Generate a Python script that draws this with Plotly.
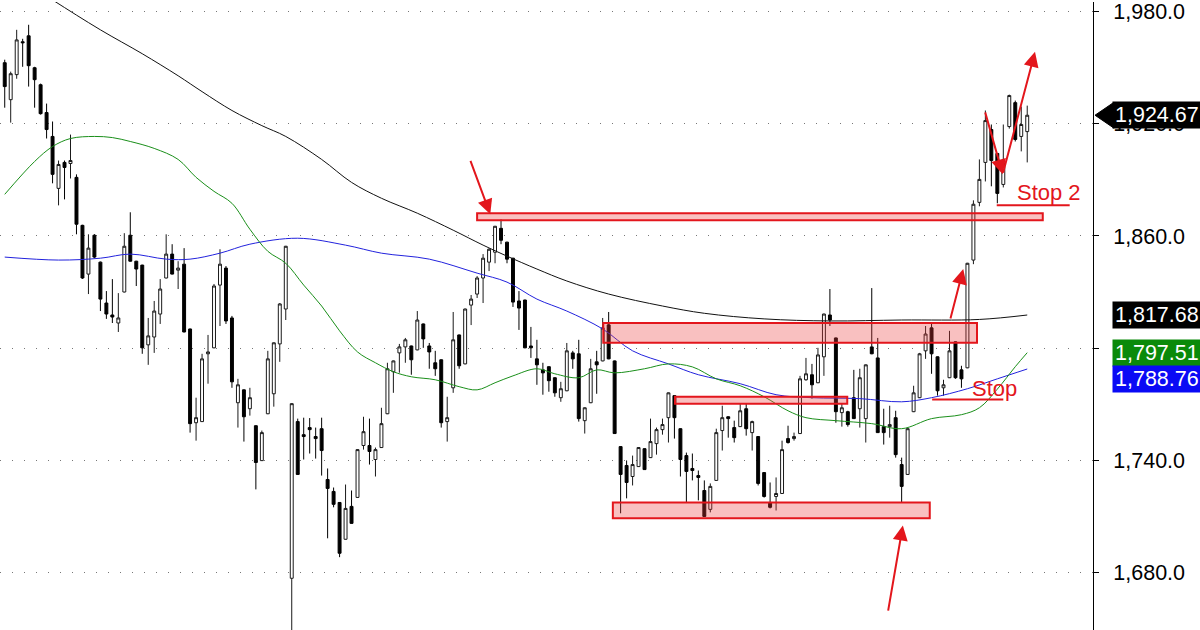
import plotly.graph_objects as go

# ---------------- data ----------------
opens = [1952.8, 1933.0, 1946.4, 1964.0, 1967.2, 1950.1, 1941.0, 1926.1, 1913.3, 1885.5,
         1899.4, 1898.8, 1891.4, 1865.7, 1839.6, 1860.4, 1846.0, 1824.1, 1817.7, 1813.4,
         1830.0, 1860.4, 1846.5, 1844.4, 1801.7, 1805.9, 1818.2, 1837.5, 1850.3, 1841.7,
         1844.9, 1810.2, 1760.0, 1760.6, 1796.9, 1800.1, 1833.7, 1842.8, 1816.1, 1770.7,
         1777.6, 1767.5, 1758.4, 1739.7, 1764.8, 1775.5, 1802.2, 1820.9, 1676.7, 1760.6,
         1753.6, 1757.4, 1752.6, 1756.8, 1729.6, 1723.2, 1717.3, 1697.6, 1715.2, 1720.0,
         1747.8, 1747.8, 1740.3, 1746.7, 1764.8, 1787.3, 1797.4, 1800.6, 1801.1, 1799.0,
         1812.9, 1801.1, 1792.1, 1793.7, 1760.6, 1778.7, 1807.0, 1791.5, 1823.0, 1828.9,
         1837.5, 1846.0, 1851.3, 1864.1, 1856.7, 1848.1, 1825.2, 1825.7, 1801.1, 1794.2,
         1788.3, 1790.0, 1784.1, 1773.4, 1777.1, 1797.4, 1796.9, 1761.1, 1770.7, 1792.6,
         1793.1, 1812.4, 1793.1, 1747.2, 1737.1, 1731.2, 1736.5, 1746.1, 1741.3, 1748.8,
         1756.3, 1762.7, 1774.5, 1756.8, 1742.4, 1735.5, 1731.7, 1723.7, 1713.6, 1729.1,
         1755.8, 1763.2, 1757.4, 1757.9, 1767.5, 1754.7, 1752.6, 1733.3, 1717.3, 1720.5,
         1722.1, 1751.5, 1751.5, 1754.2, 1783.0, 1785.7, 1781.4, 1795.3, 1817.7, 1805.4,
         1765.4, 1765.9, 1773.4, 1767.5, 1762.2, 1800.6, 1794.7, 1757.9, 1757.9, 1762.7,
         1737.6, 1732.3, 1765.9, 1773.4, 1798.5, 1810.8, 1795.3, 1778.7, 1784.1, 1803.3,
         1788.3, 1789.4, 1847.1, 1878.0, 1899.4, 1917.0, 1904.2, 1887.6, 1918.6, 1931.4,
         1913.3, 1915.9]
highs = [1954.4, 1948.0, 1970.4, 1965.6, 1973.1, 1950.6, 1941.6, 1930.9, 1921.3, 1900.4,
         1900.4, 1914.3, 1893.0, 1866.0, 1860.9, 1861.0, 1846.3, 1830.5, 1836.9, 1829.4,
         1861.5, 1872.7, 1846.7, 1844.6, 1816.1, 1825.2, 1836.9, 1860.9, 1855.6, 1846.5,
         1853.5, 1810.4, 1773.4, 1796.9, 1807.0, 1834.3, 1852.9, 1843.9, 1817.2, 1783.5,
         1777.8, 1778.7, 1758.6, 1755.8, 1798.5, 1803.0, 1824.1, 1854.7, 1770.4, 1762.2,
         1762.7, 1762.5, 1757.4, 1762.7, 1735.5, 1725.3, 1717.5, 1726.9, 1723.7, 1745.8,
         1763.2, 1762.2, 1746.7, 1768.0, 1792.1, 1793.3, 1802.2, 1805.4, 1801.3, 1819.8,
         1813.1, 1802.7, 1798.5, 1793.9, 1773.9, 1819.3, 1807.2, 1821.1, 1828.4, 1838.5,
         1850.3, 1853.4, 1865.4, 1868.9, 1856.9, 1848.3, 1830.5, 1825.9, 1811.3, 1804.4,
         1792.1, 1790.2, 1784.3, 1781.9, 1802.7, 1798.5, 1804.4, 1768.2, 1794.2, 1798.5,
         1816.1, 1819.3, 1793.3, 1747.4, 1739.8, 1742.4, 1746.9, 1746.3, 1762.2, 1757.4,
         1762.2, 1776.2, 1774.7, 1757.0, 1744.0, 1743.5, 1734.4, 1729.1, 1727.5, 1756.8,
         1769.1, 1763.4, 1761.1, 1770.2, 1770.2, 1761.1, 1752.8, 1733.5, 1728.0, 1730.7,
         1750.4, 1758.4, 1754.7, 1785.1, 1794.7, 1791.5, 1800.1, 1818.4, 1831.6, 1805.6,
         1770.2, 1766.4, 1788.3, 1788.9, 1791.2, 1832.1, 1805.4, 1767.5, 1769.1, 1766.4,
         1741.3, 1757.0, 1779.8, 1797.4, 1811.8, 1812.9, 1795.5, 1783.0, 1809.2, 1803.5,
         1790.5, 1845.6, 1879.1, 1901.0, 1927.2, 1919.7, 1904.4, 1919.7, 1935.7, 1932.5,
         1929.3, 1929.8]
lows = [1928.7, 1920.7, 1944.2, 1950.6, 1940.0, 1928.7, 1925.0, 1912.2, 1888.2, 1876.4,
        1879.6, 1890.8, 1860.9, 1837.0, 1828.9, 1848.1, 1819.8, 1815.6, 1813.4, 1808.6,
        1829.8, 1846.3, 1833.2, 1796.9, 1791.0, 1797.4, 1812.9, 1837.3, 1839.4, 1831.6,
        1808.4, 1754.7, 1750.4, 1760.4, 1780.9, 1799.9, 1811.8, 1812.9, 1778.7, 1757.4,
        1749.9, 1763.8, 1724.3, 1739.5, 1764.6, 1768.6, 1792.6, 1815.0, 1643.6, 1732.1,
        1740.3, 1743.5, 1740.8, 1731.7, 1698.1, 1714.7, 1688.0, 1697.4, 1705.9, 1719.8,
        1745.6, 1737.6, 1731.2, 1746.5, 1764.6, 1776.0, 1786.8, 1792.1, 1785.7, 1798.8,
        1800.1, 1788.9, 1785.1, 1757.4, 1749.9, 1776.0, 1788.9, 1791.3, 1812.3, 1826.8,
        1824.1, 1841.2, 1845.4, 1855.6, 1845.4, 1822.0, 1809.7, 1799.9, 1794.7, 1780.3,
        1775.0, 1776.6, 1773.9, 1771.2, 1776.9, 1788.9, 1760.6, 1754.2, 1770.5, 1775.5,
        1792.9, 1794.0, 1754.0, 1711.5, 1719.5, 1726.4, 1736.3, 1734.7, 1741.1, 1742.9,
        1753.6, 1749.4, 1751.5, 1731.2, 1717.3, 1729.1, 1718.4, 1709.6, 1712.0, 1728.9,
        1745.1, 1752.0, 1749.4, 1757.7, 1753.1, 1745.1, 1726.4, 1719.9, 1714.1, 1713.0,
        1721.9, 1748.8, 1750.4, 1754.0, 1782.5, 1772.9, 1781.2, 1785.1, 1811.8, 1760.0,
        1757.9, 1757.9, 1762.0, 1757.4, 1749.4, 1796.7, 1754.5, 1748.3, 1752.0, 1741.3,
        1717.3, 1732.1, 1765.7, 1773.2, 1794.2, 1786.2, 1774.5, 1774.5, 1783.9, 1783.5,
        1778.7, 1789.2, 1844.9, 1875.9, 1889.2, 1886.6, 1877.5, 1886.0, 1917.5, 1910.6,
        1905.3, 1899.4]
closes = [1940.0, 1946.9, 1965.0, 1963.5, 1951.2, 1943.7, 1925.5, 1917.0, 1893.0, 1898.3,
          1896.7, 1900.4, 1866.3, 1837.5, 1853.5, 1848.7, 1826.2, 1818.2, 1816.6, 1816.1,
          1854.5, 1846.5, 1842.3, 1800.1, 1806.5, 1819.8, 1831.6, 1850.3, 1839.6, 1842.8,
          1808.6, 1759.5, 1762.7, 1794.2, 1797.9, 1833.2, 1844.9, 1814.5, 1781.9, 1780.3,
          1763.2, 1773.4, 1738.7, 1754.7, 1794.2, 1802.8, 1823.6, 1854.5, 1770.2, 1732.3,
          1752.6, 1756.3, 1751.5, 1745.1, 1724.8, 1716.3, 1690.1, 1714.1, 1706.1, 1745.6,
          1755.2, 1744.6, 1745.6, 1759.5, 1788.9, 1793.1, 1800.6, 1804.4, 1793.7, 1815.0,
          1804.9, 1797.9, 1788.9, 1760.0, 1762.7, 1804.4, 1790.5, 1820.9, 1826.2, 1837.5,
          1848.1, 1852.9, 1865.2, 1857.7, 1847.6, 1824.6, 1821.4, 1800.1, 1800.1, 1791.0,
          1786.7, 1782.5, 1776.0, 1778.2, 1798.5, 1794.2, 1762.2, 1768.0, 1788.9, 1791.0,
          1810.8, 1794.2, 1754.2, 1732.3, 1728.0, 1737.6, 1746.7, 1734.9, 1749.9, 1756.3,
          1759.0, 1776.0, 1762.7, 1740.3, 1733.9, 1734.4, 1730.7, 1709.8, 1725.9, 1754.7,
          1762.7, 1762.2, 1752.0, 1766.4, 1756.8, 1760.6, 1727.5, 1720.5, 1714.7, 1722.1,
          1745.6, 1749.4, 1752.6, 1783.5, 1786.2, 1780.3, 1796.3, 1818.2, 1815.0, 1765.9,
          1768.0, 1759.0, 1762.2, 1784.1, 1791.0, 1796.9, 1754.7, 1754.7, 1759.0, 1742.9,
          1725.9, 1756.8, 1776.0, 1796.9, 1807.5, 1796.9, 1777.1, 1780.3, 1798.5, 1784.1,
          1783.5, 1845.4, 1877.0, 1890.3, 1921.8, 1900.4, 1882.8, 1898.8, 1935.2, 1911.7,
          1919.7, 1924.67]
bars = list(range(len(closes)))

# moving averages, read at selected bars
ma_black_x = [0, 8, 16, 23, 29, 33, 38, 43, 47, 53, 58, 63, 69, 75, 80, 84, 89, 94,
              101, 110, 117, 127, 138, 150, 163, 171]
ma_black = [2003.0, 1986.4, 1970.4, 1957.6, 1945.8, 1937.3, 1927.2, 1919.1, 1913.3,
            1901.0, 1888.7, 1880.2, 1872.2, 1863.1, 1855.1, 1849.2, 1842.3, 1835.9,
            1828.9, 1822.5, 1818.6, 1815.6, 1814.5, 1815.0, 1815.3, 1817.68]
ma_blue_x = [0, 9, 16, 21, 27, 31, 36, 41, 49, 57, 63, 71, 79, 84, 89, 94, 100, 105,
             111, 116, 123, 129, 135, 143, 150, 155, 161, 166, 171]
ma_blue = [1848.7, 1847.1, 1848.1, 1850.3, 1847.6, 1847.6, 1850.8, 1855.6, 1858.8,
           1855.1, 1850.8, 1847.6, 1840.1, 1835.3, 1826.2, 1819.8, 1810.2, 1798.5,
           1791.5, 1785.7, 1780.9, 1775.0, 1773.4, 1772.9, 1771.2, 1773.4, 1778.2,
           1783.5, 1788.76]
ma_green_x = [0, 5, 8, 11, 15, 18, 21, 25, 29, 32, 35, 38, 41, 44, 47, 50, 53, 56, 59,
              62, 65, 68, 72, 76, 79, 82, 85, 89, 92, 96, 99, 102, 107, 111, 115, 119,
              123, 127, 131, 134, 139, 145, 150, 155, 160, 163, 166, 169, 171]
ma_green = [1882.3, 1899.9, 1907.9, 1912.2, 1913.3, 1912.7, 1910.6, 1906.9, 1901.0,
            1891.4, 1883.9, 1877.5, 1863.6, 1851.8, 1845.4, 1833.7, 1822.5, 1809.2,
            1797.9, 1792.1, 1787.3, 1784.6, 1783.0, 1779.3, 1777.6, 1781.4, 1785.1,
            1788.9, 1786.2, 1784.1, 1788.3, 1786.7, 1788.9, 1791.5, 1789.9, 1783.5,
            1779.8, 1773.9, 1766.4, 1762.7, 1761.1, 1759.5, 1756.8, 1762.2, 1764.3,
            1768.0, 1778.0, 1790.0, 1797.51]

y_ticks = [1680, 1740, 1800, 1860, 1920, 1980]
y_tick_text = ["1,680.0", "1,740.0", "", "1,860.0", "1,920.0", "1,980.0"]

# price tags at the right axis
tag_values = [1924.67, 1817.68, 1797.51, 1788.76]
tag_colors = ["black", "black", "#0a8a0a", "#0a0af5"]
tag_shift = [0, 0, 0, -10]

# zones drawn on the chart: (bar from, bar to, price low, price high)
zones = [(79.0, 173.6, 1868.4, 1872.2),
         (100.1, 162.6, 1802.8, 1813.4),
         (112.1, 140.9, 1770.2, 1773.9),
         (101.7, 154.7, 1708.8, 1717.3)]
# arrows: (tail bar, tail price, head bar, head price)
arrows = [(77.8, 1901.0, 81.2, 1871.6),
          (147.7, 1658.6, 150.2, 1705.0),
          (158.1, 1815.0, 160.3, 1842.3),
          (163.9, 1927.0, 166.9, 1893.0),
          (166.9, 1893.0, 172.3, 1958.6)]
# stop lines: (bar from, bar to, price)
stops = [(155.1, 167.0, 1772.4), (165.9, 178.1, 1876.4)]
stop_texts = [("Stop", 165.6, 1778.2), ("Stop 2", 174.6, 1883.4)]

Y_MIN, Y_MAX = 1649.0, 1985.3
X_MIN, X_MAX = -0.79, 182.0
RED = "#e3161c"
FONT = "Liberation Sans, Arial, sans-serif"

fig = go.Figure()
fig.add_trace(go.Scatter(x=ma_black_x, y=ma_black, mode="lines",
                         line=dict(color="#111111", width=1, shape="spline"),
                         hoverinfo="skip"))
fig.add_trace(go.Scatter(x=ma_blue_x, y=ma_blue, mode="lines",
                         line=dict(color="#2222dd", width=1, shape="spline"),
                         hoverinfo="skip"))
fig.add_trace(go.Scatter(x=ma_green_x, y=ma_green, mode="lines",
                         line=dict(color="#1a8f1a", width=1, shape="spline"),
                         hoverinfo="skip"))
fig.add_trace(go.Candlestick(
    x=bars, open=opens, high=highs, low=lows, close=closes,
    increasing=dict(line=dict(color="#1a1a1a", width=1), fillcolor="white"),
    decreasing=dict(line=dict(color="#000000", width=1), fillcolor="black"),
    whiskerwidth=0, hoverinfo="skip"))

shapes = []
for x0, x1, y0, y1 in zones:
    shapes.append(dict(type="rect", xref="x", yref="y", x0=x0, x1=x1, y0=y0, y1=y1,
                       line=dict(color=RED, width=2),
                       fillcolor="rgba(235,60,60,0.32)", layer="above"))
for x0, x1, y in stops:
    shapes.append(dict(type="line", xref="x", yref="y", x0=x0, x1=x1, y0=y, y1=y,
                       line=dict(color=RED, width=2), layer="above"))

annotations = []
for tx, ty, hx, hy in arrows:
    annotations.append(dict(x=hx, y=hy, ax=tx, ay=ty, xref="x", yref="y",
                            axref="x", ayref="y", text="", showarrow=True,
                            arrowhead=2, arrowsize=1.5, arrowwidth=2,
                            arrowcolor=RED, standoff=0))
for txt, tx, ty in stop_texts:
    annotations.append(dict(x=tx, y=ty, xref="x", yref="y", text=txt,
                            showarrow=False, font=dict(family=FONT, size=22, color=RED)))

plot_w = 1093.0
for v, c, s in zip(tag_values, tag_colors, tag_shift):
    annotations.append(dict(x=1112 / plot_w, y=v, xref="paper", yref="y",
                            xanchor="left", yanchor="middle", yshift=s,
                            text=f"{v:,.2f}", showarrow=False, align="left",
                            bgcolor=c, borderpad=2, width=96, height=22,
                            font=dict(family=FONT, size=21.5, color="white")))

# pointer of the last-price tag
def ypaper(v):
    return (v - Y_MIN) / (Y_MAX - Y_MIN)

last = tag_values[0]
half = 13 * (Y_MAX - Y_MIN) / 630
shapes.append(dict(type="path", xref="paper", yref="paper",
                   path=(f"M {1095/plot_w},{ypaper(last)} "
                         f"L {1114/plot_w},{ypaper(last + half)} "
                         f"L {1114/plot_w},{ypaper(last - half)} Z"),
                   fillcolor="black", line=dict(color="black", width=1), layer="above"))

fig.update_layout(
    width=1200, height=630,
    margin=dict(l=0, r=107, t=0, b=0),
    paper_bgcolor="white", plot_bgcolor="white",
    showlegend=False, hovermode=False,
    shapes=shapes, annotations=annotations,
    xaxis=dict(range=[X_MIN, X_MAX], visible=False,
               rangeslider=dict(visible=False), fixedrange=True),
    yaxis=dict(range=[Y_MIN, Y_MAX], side="right", tickvals=y_ticks,
               ticktext=y_tick_text, ticks="outside", ticklen=5, tickcolor="black",
               showline=True, linecolor="black", linewidth=1,
               showgrid=True, gridcolor="#777777", griddash="1px,11px", gridwidth=1,
               zeroline=False, ticklabelstandoff=10, ticklabeloverflow="allow",
               tickfont=dict(family=FONT, size=21.5, color="black"), fixedrange=True),
)

fig.write_html("out.html", config={"displayModeBar": False},
               post_script="document.body.style.margin='0';document.body.style.overflow='hidden';")
